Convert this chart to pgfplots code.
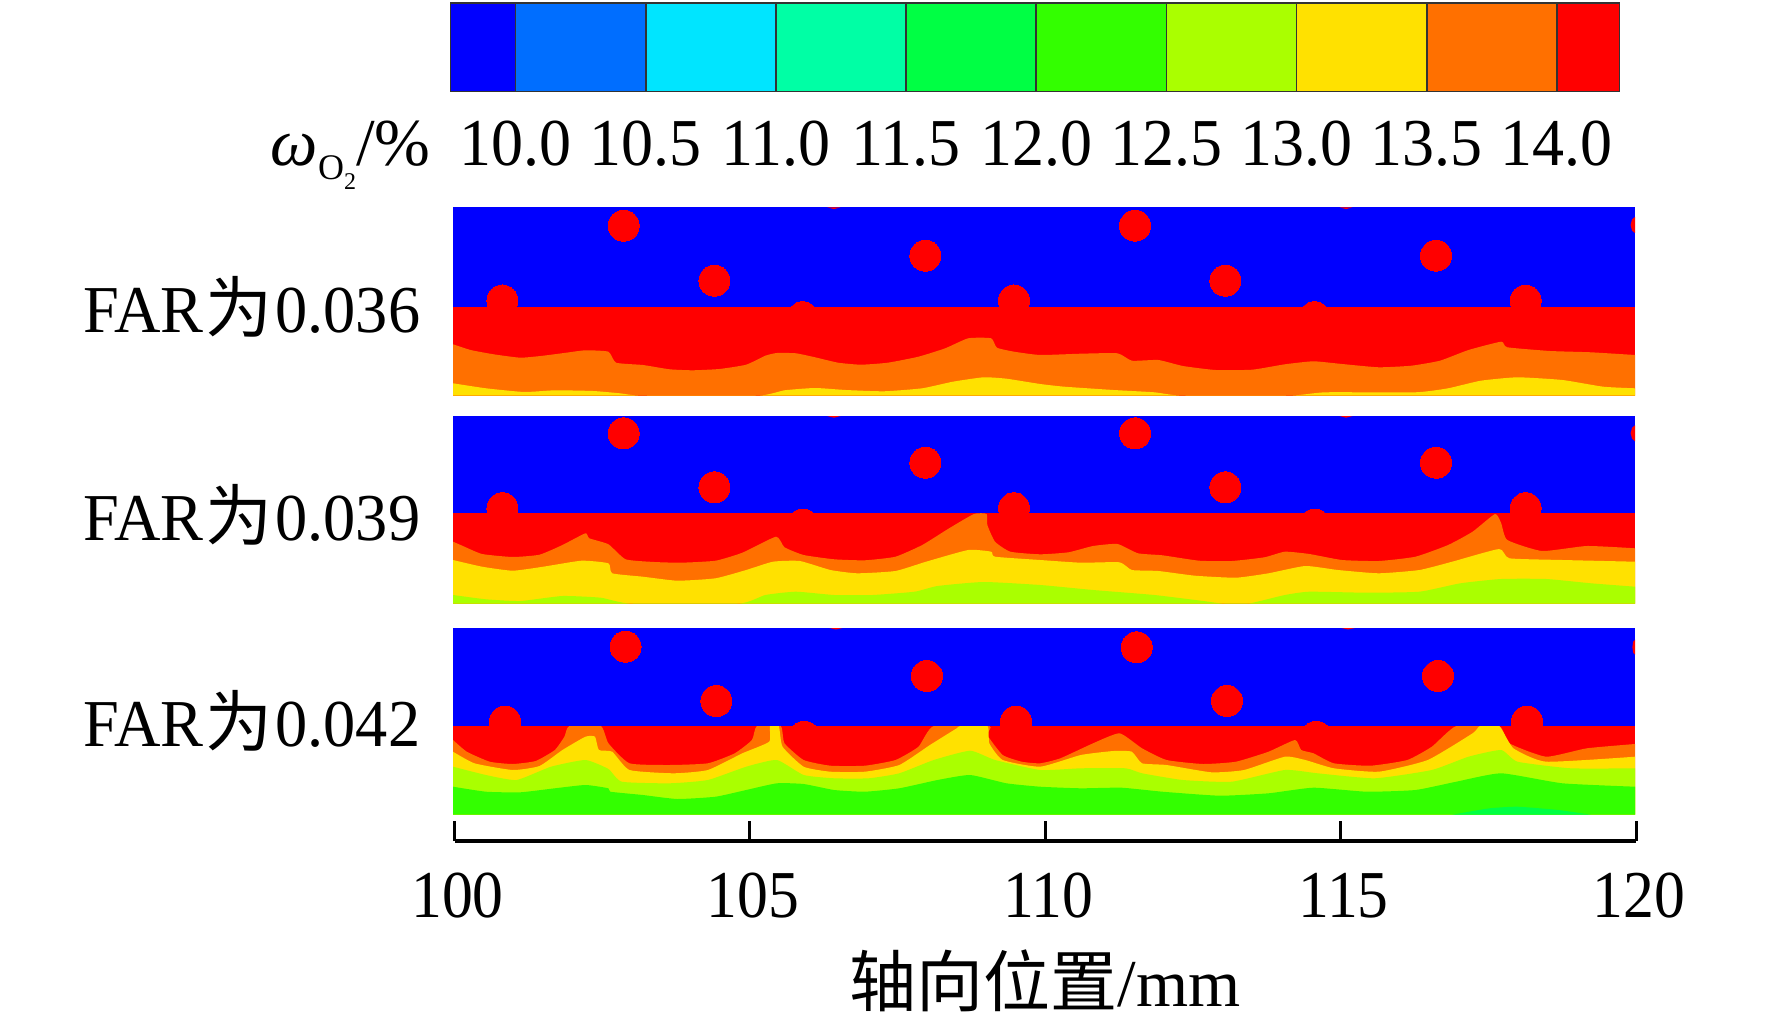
\documentclass[border=0pt]{standalone}
\usepackage{fontspec}
\usepackage{pgfplots}
\pgfplotsset{compat=1.18}
\setmainfont{Liberation Serif}
\newfontfamily\cjk{Noto Sans CJK SC}
\newfontfamily\cbfont[FakeStretch=0.955]{Liberation Serif}
\newfontfamily\axfont[FakeStretch=0.92]{Liberation Serif}
\newfontfamily\farfont[FakeStretch=0.96]{Liberation Serif}
\newcommand{\bigsize}{\fontsize{33.5}{36}\selectfont}
\newcommand{\farlabel}[1]{FAR\kern1pt{\cjk 为}\kern1.5pt #1}

\definecolor{c0}{HTML}{0000FF}
\definecolor{c1}{HTML}{006EFF}
\definecolor{c2}{HTML}{00E5FF}
\definecolor{c3}{HTML}{00FFA5}
\definecolor{c4}{HTML}{00FF44}
\definecolor{c5}{HTML}{33FF00}
\definecolor{c6}{HTML}{AAFF00}
\definecolor{c7}{HTML}{FFE100}
\definecolor{c8}{HTML}{FF7000}
\definecolor{c9}{HTML}{FF0000}

% y of the three contour panels: height above the panel bottom, in image pixels
\pgfplotsset{
  panel/.style={
    scale only axis, width=591pt, hide axis, anchor=south west,
    xmin=100, xmax=120, ymin=0,
  },
  holes/.style={c9, only marks, mark=*, mark size=7.75pt, mark options={fill=c9, draw=c9, line width=0pt}},
  band/.style={draw=none, fill=#1, forget plot, smooth, tension=0.3},
  flat/.style={draw=none, fill=#1, forget plot},
  cb/.style={draw=black!80, line width=0.8pt, fill=#1, forget plot},
}

\begin{document}
\begin{tikzpicture}
\path[use as bounding box] (0pt,0pt) rectangle (886pt,-513.5pt);

% colour bar
\begin{axis}[
  at={(225.25pt,-45.85pt)}, anchor=south west, scale only axis,
  width=584.45pt, height=44.2pt,
  xmin=9.75, xmax=14.24, ymin=0, ymax=1, ytick=\empty,
  xtick={10,10.5,11,11.5,12,12.5,13,13.5,14},
  xtick style={draw=none}, major tick length=0pt,
  axis line style={draw=black!80, line width=0.8pt},
  /pgf/number format/assume math mode=true,
  /pgf/number format/fixed, /pgf/number format/fixed zerofill, /pgf/number format/precision=1,
  xticklabel style={font=\cbfont\bigsize, anchor=base, inner sep=0pt, yshift=-37pt},
]
\addplot[cb=c0] coordinates {(9.75,1)(10,1)} \closedcycle;
\addplot[cb=c1] coordinates {(10,1)(10.5,1)} \closedcycle;
\addplot[cb=c2] coordinates {(10.5,1)(11,1)} \closedcycle;
\addplot[cb=c3] coordinates {(11,1)(11.5,1)} \closedcycle;
\addplot[cb=c4] coordinates {(11.5,1)(12,1)} \closedcycle;
\addplot[cb=c5] coordinates {(12,1)(12.5,1)} \closedcycle;
\addplot[cb=c6] coordinates {(12.5,1)(13,1)} \closedcycle;
\addplot[cb=c7] coordinates {(13,1)(13.5,1)} \closedcycle;
\addplot[cb=c8] coordinates {(13.5,1)(14,1)} \closedcycle;
\addplot[cb=c9] coordinates {(14,1)(14.24,1)} \closedcycle;
\end{axis}

% FAR 0.036
\begin{axis}[panel, at={(226.5pt,-197.85pt)}, height=94.2pt, ymax=188.4]
\addplot[flat=c9] coordinates {(100,89)(120,89)} \closedcycle;
\addplot[band=c8] coordinates {
  (100,51.4)(100.298,45.7)(100.687,41.4)(101.14,38)(101.528,40)(101.917,43)(102.241,45.4)
  (102.63,44)(102.759,33)(103.212,30.7)(103.666,26.4)(104.054,25.4)(104.508,26.7)(104.961,31)
  (105.285,40)(105.479,42.7)(105.803,42.4)(106.127,38.4)(106.516,33)(106.904,31)(107.358,33)
  (107.876,39)(108.329,47.4)(108.718,57.4)(109.106,57.4)(109.203,48)(109.495,44)(109.935,40.7)
  (110.623,42)(111.244,42.4)(111.486,35)(111.935,35.7)(112.349,29.7)(112.902,25.7)(113.523,26)
  (114.076,31.4)(114.559,34.4)(115.042,31.7)(115.664,28.4)(116.216,30)(116.7,35)(117.183,45.7)
  (117.736,54)(117.839,48.4)(118.565,44.7)(119.255,43.4)(120,40.7)} \closedcycle;
\addplot[band=c7] coordinates {
  (100,12.4)(100.557,7.4)(101.205,3.7)(101.723,5.4)(102.37,4.7)(102.824,2.4)(103.212,0)
  (105.155,0)(105.609,5.4)(106.127,7.7)(106.645,5.7)(107.293,4.4)(107.94,7.4)(108.458,14)
  (108.977,18.4)(109.365,17)(109.935,11.7)(110.346,9)(111.175,5.7)(111.866,3.4)(112.349,0)
  (114.145,0)(114.766,3.4)(116.286,3.4)(116.838,7.4)(117.391,15)(118.012,18.4)(118.772,15.7)
  (119.462,9)(120,7.4)} \closedcycle;
\addplot[flat=c0] coordinates {(100,89)(120,89)(120,188.4)(100,188.4)} -- cycle;
\addplot[holes] coordinates {
  (102.888,170) (104.423,115) (107.992,140) (100.836,95.2) (109.492,95.2)
  (105.919,78.5) (111.54,170) (113.068,115) (116.633,140) (118.15,95) (114.58,78.5)};
% holes cut by the panel edge
\addplot[flat=c9] coordinates {(119.925,170.7)(119.95,165)(120,162.7)(120,178.7)(119.95,176.4)} -- cycle;
\addplot[flat=c9] coordinates {(106.33,188.4)(106.447,186.6)(106.56,188.4)} -- cycle;
\addplot[flat=c9] coordinates {(115,188.4)(115.11,186.6)(115.22,188.4)} -- cycle;
\end{axis}

% FAR 0.039
\begin{axis}[panel, at={(226.5pt,-301.85pt)}, height=93.85pt, ymax=187.7]
\addplot[flat=c9] coordinates {(100,90.4)(120,90.4)} \closedcycle;
\addplot[band=c8] coordinates {
  (100,62)(100.168,57.7)(100.492,49.7)(101.01,46.7)(101.464,49)(101.852,58.7)(102.241,70.4)
  (102.306,65.4)(102.63,59.4)(102.921,44.4)(103.407,41.7)(103.86,41)(104.443,43)(104.896,51)
  (105.466,67)(105.609,56.4)(105.933,48.7)(106.451,44.4)(106.969,43.4)(107.487,47)(107.94,58.7)
  (108.394,75.4)(108.815,89.7)(109.029,89.7)(109.041,78.7)(109.171,62)(109.43,52)(109.935,49.4)
  (110.415,51.4)(110.83,57.7)(111.244,59.7)(111.59,50.4)(112.004,48.4)(112.625,43)(113.178,42.7)
  (113.73,46.4)(114.076,52)(114.49,49.7)(115.042,43.7)(115.664,42.7)(116.286,47)(116.838,58.7)
  (117.252,72)(117.632,89.7)(117.736,80.4)(117.839,63.7)(118.426,52.7)(119.186,57.7)(120,55.4)} \closedcycle;
\addplot[band=c7] coordinates {
  (100,43.7)(100.492,37)(101.01,33)(101.528,37)(102.176,43)(102.63,40.4)(102.694,30.4)
  (103.212,27)(103.795,23)(104.443,25.4)(104.961,33.7)(105.415,42)(105.868,42.7)(106.386,33.7)
  (106.839,30.4)(107.487,32.7)(108.005,42)(108.718,53.7)(109.106,52)(109.171,47)(109.935,43.7)
  (110.623,41)(111.279,41.4)(111.486,33.7)(111.935,32.7)(112.556,28)(113.247,26)(113.799,30.4)
  (114.421,37.7)(114.973,33.7)(115.664,30.4)(116.354,33.7)(116.907,42)(117.701,54.7)(117.874,45.4)
  (118.772,43.7)(120,42)} \closedcycle;
\addplot[band=c6] coordinates {
  (100,8.7)(100.557,4.4)(101.14,2.7)(101.852,7.7)(102.5,6)(103.018,0)(104.832,0)(105.285,8.7)
  (105.803,12)(106.451,8.7)(107.098,8.7)(107.811,12)(108.199,17.7)(108.977,21.7)(109.935,18.7)
  (110.83,13.7)(111.866,8.7)(112.694,2.7)(113.04,0)(113.454,0)(114.076,8.7)(114.49,12)
  (115.457,11)(116.354,12)(117.045,20.4)(117.736,24.7)(118.496,24.7)(119.255,20.4)(120,17)} \closedcycle;
\addplot[flat=c0] coordinates {(100,90.4)(120,90.4)(120,187.7)(100,187.7)} -- cycle;
\addplot[holes] coordinates {
  (102.888,170.4) (104.423,116.4) (107.992,141) (100.836,95.5) (109.492,95.5)
  (105.919,79.2) (111.54,170.4) (113.068,116.4) (116.633,141) (118.15,95.5) (114.58,79.2)};
\addplot[flat=c9] coordinates {(119.925,170.4)(119.95,165)(120,162.4)(120,178.4)(119.95,176)} -- cycle;
\addplot[flat=c9] coordinates {(106.33,187.7)(106.447,186)(106.56,187.7)} -- cycle;
\addplot[flat=c9] coordinates {(115,187.7)(115.11,186)(115.22,187.7)} -- cycle;
\end{axis}

% FAR 0.042
\begin{axis}[panel, at={(226.5pt,-407.35pt)}, height=93.35pt, ymax=186.7]
\addplot[flat=c9] coordinates {(100,88.7)(120,88.7)} \closedcycle;
\addplot[band=c8] coordinates {
  (100,74.7)(100.233,63)(100.622,53)(101.01,50.7)(101.399,53.7)(101.723,64.7)(101.885,78)
  (101.969,88.7)(102.5,88.7)(102.63,71.4)(102.986,51.4)(103.666,49.7)(104.313,51.4)(104.767,61.4)
  (105.058,74.7)(105.142,88.7)(105.544,88.7)(105.609,71.4)(105.933,54.7)(106.386,49)(106.969,49)
  (107.487,54.7)(107.876,68)(108.135,88.7)(109.074,88.7)(109.041,79.7)(109.301,59.7)(109.624,53)
  (109.935,51.4)(110.277,56.4)(110.83,71.4)(111.279,81.4)(111.659,66.4)(112.073,54.7)(112.694,50.7)
  (113.247,53)(113.799,63)(114.248,74.7)(114.352,64.7)(114.559,61.4)(114.904,51.4)(115.526,49)
  (116.147,54.7)(116.562,68)(116.976,88.7)(117.701,88.7)(117.874,71.4)(118.496,58)(119.186,66.4)
  (120,70.7)} \closedcycle;
\addplot[band=c7] coordinates {
  (100,63)(100.363,51.4)(101.01,44.7)(101.464,48.7)(101.852,64.7)(102.241,78)(102.403,78)
  (102.468,64.7)(102.694,63)(102.986,44.7)(103.731,41.4)(104.313,44.7)(104.896,61.4)(105.35,73)
  (105.363,88.7)(105.512,88.7)(105.576,68)(105.933,48)(106.386,43)(106.969,43)(107.552,49.7)
  (108.07,69.7)(108.523,86.4)(108.588,88.7)(109.041,88.7)(109.074,71.4)(109.301,54.7)(109.935,48)
  (110.623,59.7)(111.175,63.7)(111.486,63)(111.659,51.4)(112.073,49.7)(112.832,42.4)(113.385,44.7)
  (114.076,58)(114.421,54.7)(114.904,46.4)(115.664,43)(116.493,54.7)(117.252,81.4)(117.377,88.7)
  (117.701,88.7)(117.943,66.4)(118.496,53)(120,58)} \closedcycle;
\addplot[band=c6] coordinates {
  (100,48)(100.557,39.7)(101.075,34.7)(101.658,48)(102.241,54.7)(102.63,45.7)(102.856,33)
  (103.666,31.4)(104.313,34.7)(104.961,48)(105.479,54.7)(105.933,39.7)(106.451,36.4)(107.034,36.4)
  (107.552,41.4)(108.135,54.7)(108.75,64)(109.171,54.7)(109.935,44.7)(110.623,46.4)(111.382,46.4)
  (111.659,41.4)(112.349,34.7)(113.178,33)(114.076,44.7)(114.628,41.4)(115.595,36.4)(116.562,44.7)
  (117.183,58)(117.736,64.7)(118.012,53)(118.91,46.4)(120,46.4)} \closedcycle;
\addplot[band=c5] coordinates {
  (100,28)(100.557,23)(101.14,22.4)(101.723,26.4)(102.241,29.7)(102.63,26.4)(102.662,23)
  (103.212,19.7)(103.795,15.7)(104.443,18)(104.961,24.7)(105.479,31.4)(105.933,30.7)(106.451,24.7)
  (106.969,23)(107.552,26.4)(108.199,34.7)(108.75,39.7)(109.365,31.4)(109.935,28)(110.623,26.4)
  (111.313,27)(112.004,23)(112.971,19)(113.799,21.4)(114.559,27)(115.457,23)(116.286,24.7)
  (116.976,33)(117.736,41.4)(118.772,31.4)(120,28)} \closedcycle;
\addplot[band=c4] coordinates {
  (116.907,0)(117.529,6.3)(118.012,8)(118.703,4.7)(119.255,0)} \closedcycle;
\addplot[flat=c0] coordinates {(100,88.7)(120,88.7)(120,186.7)(100,186.7)} -- cycle;
\addplot[holes] coordinates {
  (102.92,168) (104.455,113.7) (108.017,138.7) (100.88,93.2) (109.526,93.2)
  (105.944,78) (111.569,167.4) (113.096,113.7) (116.667,138.7) (118.173,93.2) (114.607,78)};
\addplot[flat=c9] coordinates {(119.955,167.4)(119.97,162)(120,160)(120,175)(119.97,173)} -- cycle;
\addplot[flat=c9] coordinates {(106.37,186.7)(106.48,185.2)(106.59,186.7)} -- cycle;
\addplot[flat=c9] coordinates {(115.03,186.7)(115.144,185.2)(115.26,186.7)} -- cycle;
\end{axis}

% position axis
\begin{axis}[
  at={(227.25pt,-420.5pt)}, anchor=south west, scale only axis,
  width=590.75pt, height=20pt,
  xmin=100, xmax=120, ymin=0, ymax=1,
  axis x line*=bottom, axis y line=none,
  xtick={100,105,110,115,120},
  tick align=inside, major tick length=10pt,
  axis line style={line width=1.75pt},
  xtick style={black, line width=1.5pt},
  /pgf/number format/assume math mode=true,
  xticklabel style={font=\axfont\bigsize, anchor=base, inner sep=0pt, yshift=-38pt, xshift=1.5pt},
  xlabel={{\cjk 轴向位置}/mm},
  xlabel style={font=\bigsize, at={(axis description cs:0.5,0)}, anchor=base, inner sep=0pt, yshift=-82.85pt},
]
\end{axis}

\node[anchor=base east, inner sep=0pt, font=\bigsize] at (215.5pt,-82.85pt)
  {{\itshape ω}\raisebox{-7pt}{\fontsize{18}{19}\selectfont O\raisebox{-5pt}{\fontsize{12}{13}\selectfont 2}}/\%};
\node[anchor=base west, inner sep=0pt, font=\farfont\bigsize] at (41.35pt,-166.35pt) {\farlabel{0.036}};
\node[anchor=base west, inner sep=0pt, font=\farfont\bigsize] at (41.35pt,-270pt) {\farlabel{0.039}};
\node[anchor=base west, inner sep=0pt, font=\farfont\bigsize] at (41.35pt,-373.35pt) {\farlabel{0.042}};
\end{tikzpicture}
\end{document}
